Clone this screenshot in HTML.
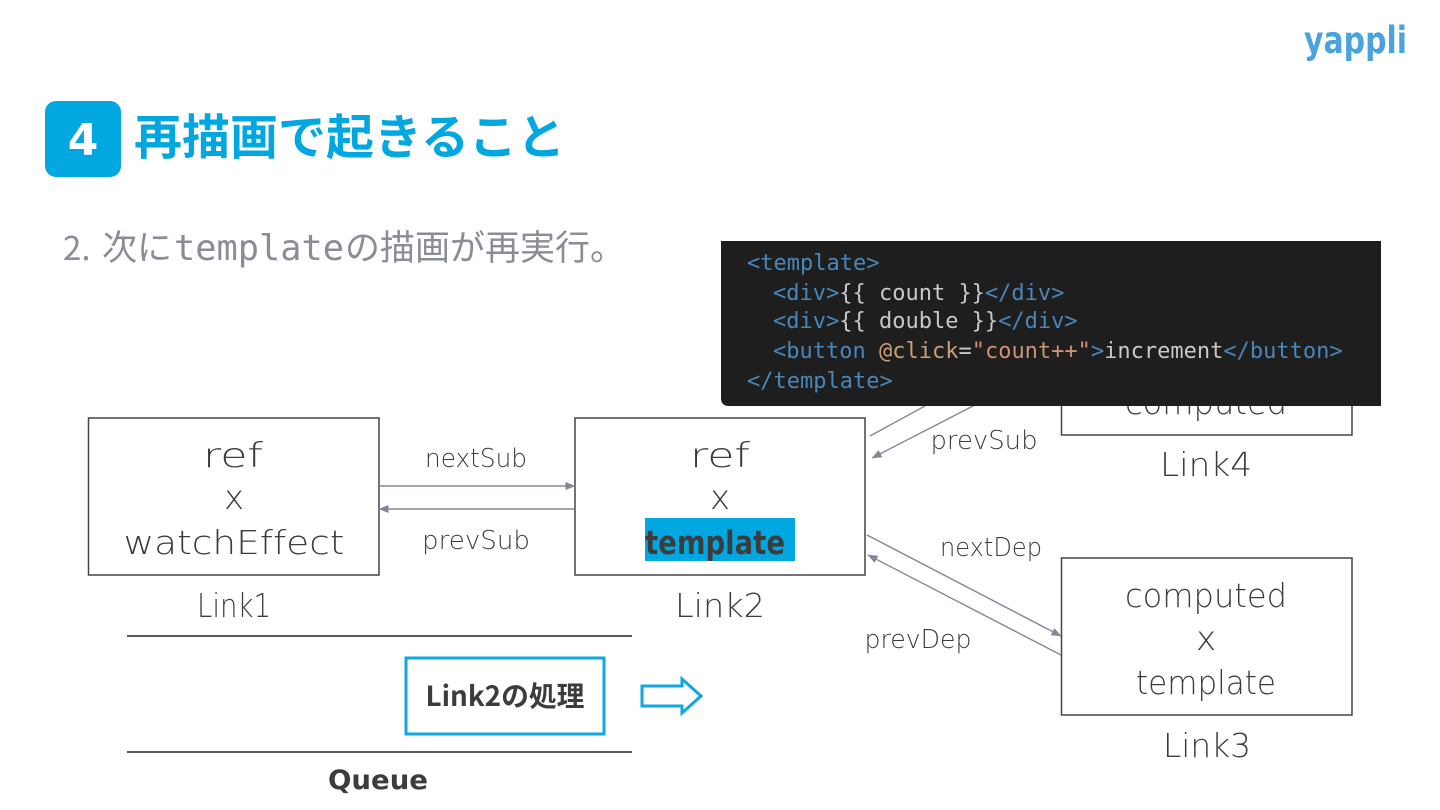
<!DOCTYPE html>
<html lang="ja">
<head>
<meta charset="utf-8">
<title>再描画で起きること</title>
<style>
html,body{margin:0;padding:0;background:#fff;width:1440px;height:810px;overflow:hidden}
svg{display:block}
text{font-variant-ligatures:none}
.h{font-family:"DejaVu Sans","Liberation Sans",sans-serif;font-weight:200;fill:#3c3c3c}
.c{font-family:"DejaVu Sans Mono","Liberation Mono",monospace;font-size:22px;fill:#c8c8c8}
.t{fill:#4a86b8}
.a{fill:#c8a078}
.s{fill:#ce9178}
</style>
</head>
<body>
<svg width="1440" height="810" viewBox="0 0 1440 810" xmlns="http://www.w3.org/2000/svg">
<defs>
<marker id="ar" markerWidth="10" markerHeight="8" refX="9.5" refY="4" orient="auto" markerUnits="userSpaceOnUse"><path d="M0 0L10 4L0 8Z" fill="#85869a"/></marker>
</defs>
<rect width="1440" height="810" fill="#fff"/>

<!-- logo -->
<text x="1304" y="53" font-family="'DejaVu Sans','Liberation Sans',sans-serif" font-weight="700" font-size="37" fill="#4aa3df" textLength="103" lengthAdjust="spacingAndGlyphs">yappli</text>

<!-- heading -->
<rect x="45" y="101" width="76" height="76" rx="11" fill="#00a7e1"/>
<text x="83" y="155" text-anchor="middle" font-family="'DejaVu Sans','Liberation Sans',sans-serif" font-weight="700" font-size="44" fill="#fff">4</text>
<text x="134" y="154" font-family="'Liberation Sans','Noto Sans CJK JP',sans-serif" font-weight="700" font-size="48" fill="#00a7e1">再描画で起きること</text>

<!-- subtitle -->
<text x="63" y="260" font-family="'Noto Sans CJK JP',sans-serif" font-size="33" fill="#8a8c96">2.</text>
<text x="102" y="260" font-family="'Noto Sans CJK JP',sans-serif" font-size="35" fill="#8a8c96">次に</text>
<text x="174" y="260" font-family="'DejaVu Sans Mono',monospace" font-size="35.3" fill="#8a8c96">template</text>
<text x="345" y="260" font-family="'Noto Sans CJK JP',sans-serif" font-size="35" fill="#8a8c96">の描画が再実行。</text>

<!-- boxes -->
<g fill="#fff" stroke="#444" stroke-width="1.5">
<rect x="88.5" y="418" width="290.5" height="157"/>
<rect x="575" y="418" width="290" height="157"/>
<rect x="1061.5" y="558" width="290.5" height="157"/>
<rect x="1061.5" y="300" width="290.5" height="135"/>
</g>

<!-- box 1 -->
<g class="h" text-anchor="middle">
<text x="233" y="467" font-size="34" textLength="60" lengthAdjust="spacingAndGlyphs">ref</text>
<text x="234" y="509" font-size="34">x</text>
<text x="234" y="554" font-size="33" textLength="221" lengthAdjust="spacingAndGlyphs">watchEffect</text>
<text x="234" y="617" font-size="33" textLength="74" lengthAdjust="spacingAndGlyphs">Link1</text>
</g>

<!-- box 2 -->
<rect x="645" y="518" width="150" height="43" fill="#00a7e1"/>
<g class="h" text-anchor="middle">
<text x="720" y="467" font-size="34" textLength="60" lengthAdjust="spacingAndGlyphs">ref</text>
<text x="720" y="509" font-size="34">x</text>
<text x="715" y="554" font-size="33" textLength="140" lengthAdjust="spacingAndGlyphs" style="font-weight:700">template</text>
<text x="720" y="617" font-size="33" textLength="90" lengthAdjust="spacingAndGlyphs">Link2</text>
</g>

<!-- box 3 -->
<g class="h" text-anchor="middle">
<text x="1206" y="607" font-size="33" textLength="162" lengthAdjust="spacingAndGlyphs">computed</text>
<text x="1206" y="650" font-size="34">x</text>
<text x="1206" y="694" font-size="33" textLength="140" lengthAdjust="spacingAndGlyphs">template</text>
<text x="1207" y="757" font-size="33" textLength="88" lengthAdjust="spacingAndGlyphs">Link3</text>
</g>

<!-- box 4 -->
<g class="h" text-anchor="middle">
<text x="1206" y="414" font-size="33" textLength="162" lengthAdjust="spacingAndGlyphs">computed</text>
<text x="1206" y="476" font-size="33" textLength="92" lengthAdjust="spacingAndGlyphs">Link4</text>
</g>

<!-- connectors -->
<g stroke="#85869a" stroke-width="1.4" fill="none">
<line x1="379" y1="486" x2="575" y2="486" marker-end="url(#ar)"/>
<line x1="575" y1="509" x2="379" y2="509" marker-end="url(#ar)"/>
<line x1="870" y1="436" x2="925" y2="406"/>
<line x1="975" y1="405" x2="872" y2="458" marker-end="url(#ar)"/>
<line x1="867" y1="535" x2="1061" y2="636" marker-end="url(#ar)"/>
<line x1="1061" y1="655" x2="868" y2="555" marker-end="url(#ar)"/>
</g>

<!-- connector labels -->
<g class="h" text-anchor="middle">
<text x="476" y="467" font-size="26" textLength="102" lengthAdjust="spacingAndGlyphs">nextSub</text>
<text x="476" y="549" font-size="26" textLength="108" lengthAdjust="spacingAndGlyphs">prevSub</text>
<text x="984" y="449" font-size="26" textLength="107" lengthAdjust="spacingAndGlyphs">prevSub</text>
<text x="991" y="556" font-size="26" textLength="102" lengthAdjust="spacingAndGlyphs">nextDep</text>
<text x="918" y="648" font-size="26" textLength="107" lengthAdjust="spacingAndGlyphs">prevDep</text>
</g>

<!-- code panel -->
<path d="M721 241H1381V406H729Q721 406 721 398Z" fill="#1e1e1e"/>
<text class="c" x="747" y="270"><tspan class="t">&lt;template&gt;</tspan></text>
<text class="c" x="773" y="300"><tspan class="t">&lt;div&gt;</tspan>{{ count }}<tspan class="t">&lt;/div&gt;</tspan></text>
<text class="c" x="773" y="328"><tspan class="t">&lt;div&gt;</tspan>{{ double }}<tspan class="t">&lt;/div&gt;</tspan></text>
<text class="c" x="773" y="358"><tspan class="t">&lt;button </tspan><tspan class="a">@click</tspan>=<tspan class="s">"count++"</tspan><tspan class="t">&gt;</tspan>increment<tspan class="t">&lt;/button&gt;</tspan></text>
<text class="c" x="747" y="388"><tspan class="t">&lt;/template&gt;</tspan></text>

<!-- queue -->
<line x1="127" y1="636" x2="632" y2="636" stroke="#222" stroke-width="1.6"/>
<line x1="127" y1="752" x2="632" y2="752" stroke="#222" stroke-width="1.6"/>
<rect x="406" y="658" width="198" height="76" fill="#fff" stroke="#0ea7e0" stroke-width="3"/>
<text x="505" y="706" text-anchor="middle" font-family="'Noto Sans CJK JP',sans-serif" font-weight="700" font-size="28" fill="#3c3c3c" textLength="159" lengthAdjust="spacingAndGlyphs">Link2の処理</text>
<path d="M642 686H682V679L701 696L682 713V706H642Z" fill="#fff" stroke="#0ea7e0" stroke-width="3"/>
<text x="378" y="789" text-anchor="middle" font-family="'DejaVu Sans','Liberation Sans',sans-serif" font-weight="700" font-size="27" fill="#3c3c3c" textLength="100" lengthAdjust="spacingAndGlyphs">Queue</text>
</svg>
</body>
</html>
